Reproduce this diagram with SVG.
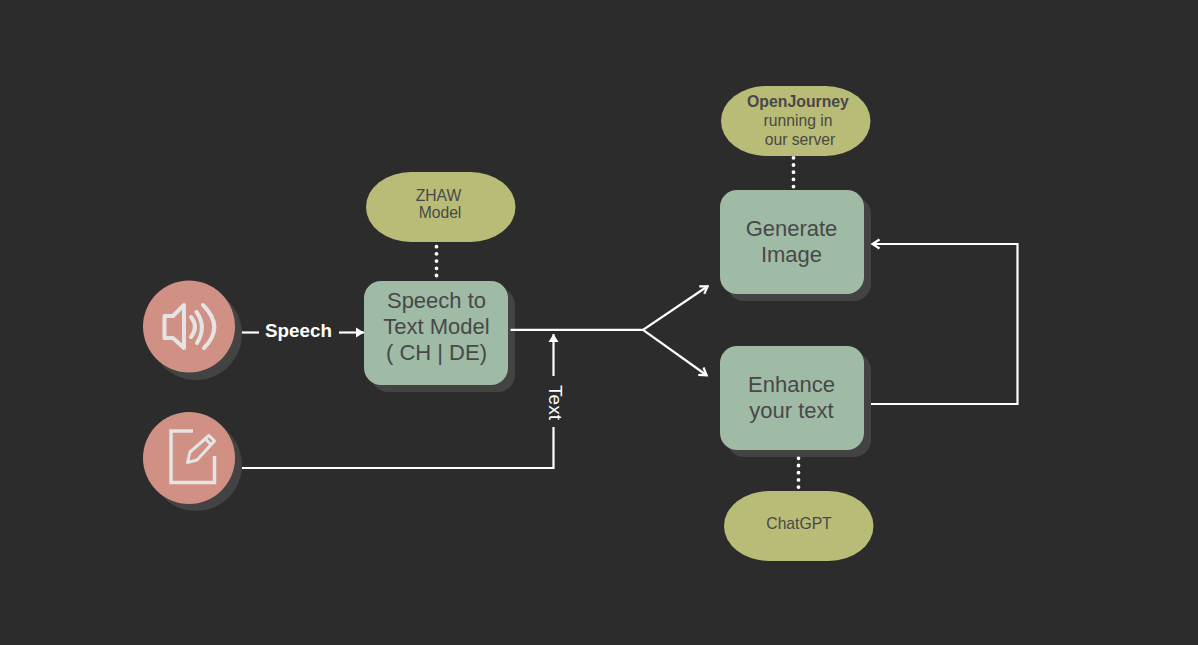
<svg xmlns="http://www.w3.org/2000/svg" width="1198" height="645" viewBox="0 0 1198 645">
<style>
text{font-family:"Liberation Sans",Arial,sans-serif;fill:#484848;text-anchor:middle}
.box{fill:#9fbba6}.shadow{fill:#434343}.pill{fill:#b9bc76}.round{fill:#d09184}
.t22{font-size:22px}.t14{font-size:15.700px}
.ln{fill:none;stroke:#fff;stroke-width:2.200}
.dot{fill:none;stroke:#fff;stroke-width:3.800;stroke-linecap:round;stroke-dasharray:0 7.200}
.ic{fill:none;stroke:#e4e4e4;stroke-width:4;stroke-linejoin:round;stroke-linecap:round}
.ic2{fill:none;stroke:#e4e4e4;stroke-width:3.500;stroke-linejoin:miter}
</style>
<defs>
<marker id="tri" markerUnits="userSpaceOnUse" markerWidth="12" markerHeight="12" refX="8" refY="6" orient="auto"><path d="M0 1L8 6L0 11Z" fill="#fff"/></marker>
<marker id="open" markerUnits="userSpaceOnUse" markerWidth="14" markerHeight="14" refX="9.500" refY="6" orient="auto"><path d="M2 1.500L9 6L2 10.500" fill="none" stroke="#fff" stroke-width="2.200"/></marker>
</defs>
<rect width="1198" height="645" fill="#2c2c2c"/>
<g id="speech-icon">
<circle class="shadow" cx="196" cy="334" r="46"/>
<circle class="round" cx="189" cy="326.500" r="46"/>
<path class="ic" d="M164.500 316H173L184 305V348L173 338H164.500Z"/>
<path class="ic" d="M191 317Q199 327 191 337"/>
<path class="ic" d="M196.500 312Q207 327 197 343"/>
<path class="ic" d="M203 305Q225 327 204 348"/>
</g>
<g id="edit-icon">
<circle class="shadow" cx="196" cy="465" r="46"/>
<circle class="round" cx="189" cy="458" r="46"/>
<path class="ic2" d="M193 431H171V482.500H214.500V456"/>
<path d="M187.500 462.500L190 452L209 435.500L214.500 441L197 460ZM205.500 439L211 444.500" fill="none" stroke="#e4e4e4" stroke-width="3" stroke-linejoin="round"/>
</g>
<g id="speech-label"><text x="298.500" y="337" style="font-size:18.800px;font-weight:700;fill:#fff">Speech</text></g>
<g id="text-label"><text transform="translate(548.500,402.500) rotate(90)" style="font-size:19px;fill:#fff">Text</text></g>
<g id="stt">
<rect class="shadow" x="371" y="288" width="144" height="104" rx="17"/>
<rect class="box" x="364" y="281" width="144" height="104" rx="17"/>
<text class="t22" x="436.500" y="307.500">Speech to</text>
<text class="t22" x="436.500" y="333.500">Text Model</text>
<text class="t22" x="436.500" y="359.500">( CH | DE)</text>
</g>
<g id="generate">
<rect class="shadow" x="727" y="197" width="144" height="104" rx="17"/>
<rect class="box" x="720" y="190" width="144" height="104" rx="17"/>
<text class="t22" x="791.500" y="236">Generate</text>
<text class="t22" x="791.500" y="262">Image</text>
</g>
<g id="enhance">
<rect class="shadow" x="727" y="353" width="144" height="104" rx="17"/>
<rect class="box" x="720" y="346" width="144" height="104" rx="17"/>
<text class="t22" x="791.500" y="392">Enhance</text>
<text class="t22" x="791.500" y="418">your text</text>
</g>
<g id="zhaw">
<rect class="pill" x="366" y="172" width="149.500" height="70" rx="45" ry="35"/>
<text class="t14" x="438.500" y="200.500">ZHAW</text>
<text class="t14" x="440" y="218">Model</text>
</g>
<g id="openjourney">
<rect class="pill" x="721" y="86" width="149.500" height="70" rx="45" ry="35"/>
<text class="t14" x="798" y="107" font-weight="700" style="font-size:15.800px">OpenJourney</text>
<text class="t14" x="798" y="126">running in</text>
<text class="t14" x="800" y="145">our server</text>
</g>
<g id="chatgpt">
<rect class="pill" x="724" y="491" width="149.500" height="70" rx="45" ry="35"/>
<text class="t14" x="799" y="529">ChatGPT</text>
</g>
<g id="connectors">
<path class="ln" d="M242 332.500H259"/>
<path class="ln" d="M339 332.500H364" marker-end="url(#tri)"/>
<path class="ln" d="M242 468H553.500V427"/>
<path class="ln" d="M553.500 376V334" marker-end="url(#tri)"/>
<path class="ln" d="M510.500 329.800H643L708 286" marker-end="url(#open)"/>
<path class="ln" d="M643 329.800L707 375.500" marker-end="url(#open)"/>
<path class="ln" d="M871 404H1017.500V244H872" marker-end="url(#open)"/>
<path class="dot" d="M436.500 246.700V276"/>
<path class="dot" d="M793.500 157.800V187.500"/>
<path class="dot" d="M798.500 458.300V488"/>
</g>
</svg>
